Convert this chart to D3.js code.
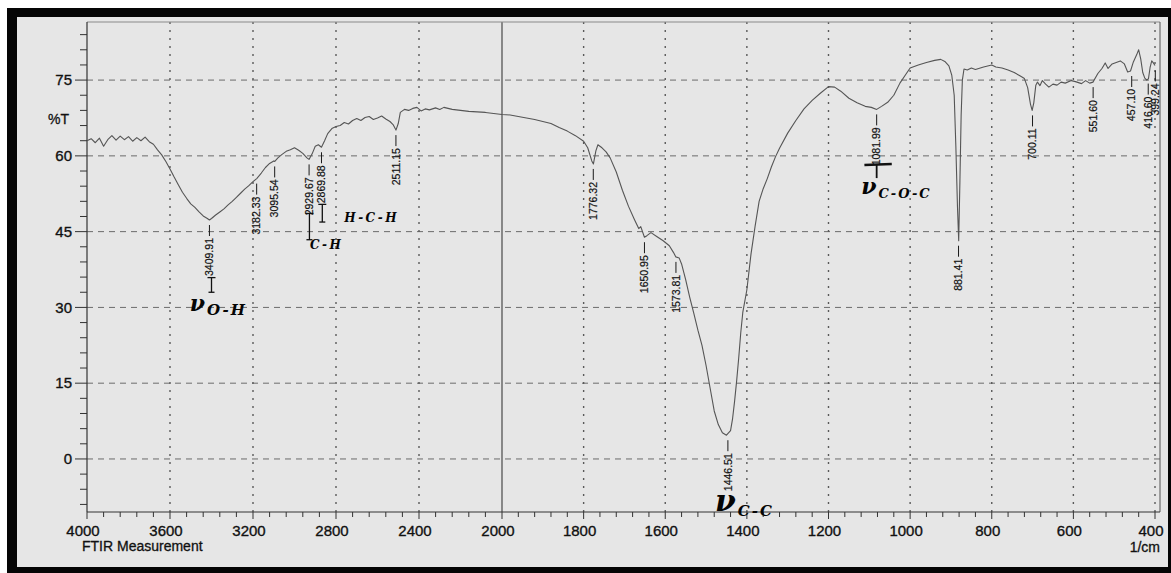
<!DOCTYPE html>
<html>
<head>
<meta charset="utf-8">
<script src="https://cdn.jsdelivr.net/npm/d3@7"></script>
<style>
  body { margin: 0; background: #fff; }
  svg { display: block; }
  .tick-label { font-family: "Liberation Sans", Arial, sans-serif; font-size: 15px; fill: #111; stroke: #111; stroke-width: 0.35px; }
  .axis-title { font-family: "Liberation Sans", Arial, sans-serif; font-size: 14px; fill: #111; stroke: #111; stroke-width: 0.3px; }
  .peak-label { font-family: "Liberation Sans", Arial, sans-serif; font-size: 10.5px; fill: #111; stroke: #111; stroke-width: 0.2px; }
  .hand { font-family: "DejaVu Serif", serif; font-style: italic; fill: #050505; }
</style>
</head>
<body>
<svg id="chart" width="1171" height="573"></svg>
<script>
// spectrum (wavenumber in 1/cm, transmittance in %T)
const wavenumber = [
  4000, 3980, 3960, 3940, 3920, 3900, 3880, 3860, 3840, 3820, 3800, 3780, 3760, 3740, 3720, 3700,
  3680, 3660, 3640, 3620, 3600, 3580, 3560, 3540, 3520, 3500, 3480, 3460, 3440, 3420, 3410, 3400,
  3380, 3360, 3340, 3320, 3300, 3280, 3260, 3240, 3220, 3200, 3182, 3160, 3140, 3120, 3100, 3095,
  3080, 3060, 3040, 3020, 3000, 2980, 2960, 2940, 2930, 2915, 2900, 2885, 2870, 2855, 2840, 2820,
  2800, 2780, 2760, 2740, 2720, 2700, 2680, 2660, 2640, 2620, 2600, 2580, 2560, 2540, 2525, 2511,
  2500, 2490, 2470, 2450, 2430, 2410, 2390, 2370, 2350, 2320, 2300, 2280, 2260, 2240, 2200, 2160,
  2120, 2080, 2040, 2000, 1980, 1960, 1940, 1920, 1900, 1880, 1860, 1840, 1820, 1800, 1790, 1780,
  1776, 1770, 1765, 1755, 1745, 1735, 1720, 1705, 1690, 1675, 1665, 1660, 1651, 1645, 1635, 1620,
  1605, 1590, 1580, 1574, 1566, 1560, 1550, 1540, 1530, 1520, 1510, 1500, 1490, 1480, 1470, 1460,
  1450, 1440, 1435, 1430, 1425, 1420, 1415, 1410, 1400, 1390, 1380, 1370, 1360, 1350, 1340, 1330,
  1320, 1300, 1280, 1260, 1240, 1220, 1200, 1185, 1170, 1150, 1130, 1110, 1095, 1082, 1070, 1055,
  1040, 1025, 1010, 1000, 980, 960, 940, 925, 915, 905, 898, 892, 888, 884, 881, 878,
  875, 872, 868, 860, 850, 840, 820, 800, 790, 775, 760, 745, 730, 720, 712, 705,
  701, 697, 692, 688, 682, 676, 668, 660, 650, 640, 630, 620, 605, 595, 580, 570,
  560, 552, 540, 530, 522, 515, 505, 495, 485, 475, 467, 460, 453, 445, 440, 435,
  430, 425, 420, 416, 412, 408, 404, 400
];
const transmittance = [
  63.0, 63.4, 62.6, 63.5, 61.9, 63.2, 64.0, 63.1, 63.9, 63.2, 63.8, 62.9, 63.6, 63.0, 63.7, 62.8,
  62.3, 61.2, 60.2, 58.9, 57.4, 55.8, 54.3, 52.8, 51.6, 50.5, 49.8, 48.9, 48.1, 47.6, 47.3, 47.6,
  48.3, 48.9, 49.5, 50.3, 51.0, 51.8, 52.6, 53.4, 54.1, 54.9, 55.5, 56.6, 57.7, 58.5, 59.0, 58.9,
  59.6, 60.3, 60.9, 61.2, 61.6, 61.1, 60.5, 59.6, 59.3, 60.4, 61.9, 62.2, 61.7, 63.0, 64.4, 65.4,
  65.8, 66.0, 66.6, 66.3, 67.0, 67.4, 67.0, 67.6, 67.8, 67.2, 67.5, 67.9, 67.3, 66.8, 66.2, 65.1,
  66.4, 68.6, 69.2, 69.0, 69.4, 69.6, 68.9, 69.3, 69.1, 69.5, 69.2, 69.6, 69.4, 69.2, 69.0, 68.8,
  68.7, 68.6, 68.4, 68.2, 68.1, 67.8, 67.5, 67.2, 66.8, 66.4, 65.6, 64.9, 64.0, 62.9, 61.6, 59.0,
  58.4, 61.0, 62.2, 61.6, 60.8, 59.6, 56.8, 53.2, 50.0, 47.3, 45.6, 46.0, 43.9, 44.2, 44.8, 44.0,
  43.2, 42.2, 40.9, 40.0, 39.8, 38.6, 35.5, 32.0, 28.8, 25.5, 22.5, 18.5, 14.0, 9.5, 6.8, 5.2,
  4.7, 5.6, 8.0, 11.5, 15.5, 20.0, 25.0, 29.0, 33.5, 40.5, 46.0, 51.0, 53.5, 55.5, 57.8, 59.8,
  61.5, 64.5, 67.0, 69.3, 71.0, 72.4, 73.7, 73.6, 72.8, 71.4, 70.5, 69.8, 69.6, 69.2, 69.8, 70.6,
  72.0, 74.4, 76.2, 77.4, 78.0, 78.5, 78.9, 79.1, 78.7, 77.8, 76.0, 72.0, 62.0, 50.0, 43.2, 55.0,
  68.0, 75.0, 77.2, 77.0, 77.4, 77.1, 77.6, 78.0, 77.6, 77.4, 77.0, 76.5, 75.8, 75.3, 73.5, 70.2,
  69.0, 70.5, 74.0, 74.6, 73.9, 74.9, 74.2, 73.6, 74.2, 74.0, 74.6, 74.4, 74.9, 74.7, 74.3, 74.9,
  74.4, 74.6, 76.3, 77.3, 78.4, 77.3, 78.2, 78.5, 78.8, 78.2, 76.6, 76.8, 78.6, 80.0, 81.0, 79.2,
  76.5, 75.4, 75.0, 75.3, 77.5, 78.8, 78.4, 77.9
];

const xTickValues = [4000, 3600, 3200, 2800, 2400, 2000, 1800, 1600, 1400, 1200, 1000, 800, 600, 400];
const yTickValues = [0, 15, 30, 45, 60, 75];

// peak picks printed by the instrument
const peakPositions = [3409.91, 3182.33, 3095.54, 2929.67, 2869.88, 2511.15, 1776.32, 1650.95,
  1573.81, 1446.51, 1081.99, 881.41, 700.11, 551.60, 457.10, 416.60, 399.24];
const peakLabels = ["3409.91", "3182.33", "3095.54", "2929.67", "2869.88", "2511.15", "1776.32", "1650.95",
  "1573.81", "1446.51", "1081.99", "881.41", "700.11", "551.60", "457.10", "416.60", "399.24"];

// handwritten notes on the print (wavenumber, %T)
const noteMain = ["\u03BD", "", "", "\u03BD", "\u03BD"];
const noteSub = ["O-H", "C-H", "H-C-H", "C-C", "C-O-C"];
const noteWn = [3505, 2925, 2760, 1478, 1120];
const noteT = [29.3, 41.6, 46.9, -10.3, 52.5];

const svg = d3.select("#chart");
const W = 1171, H = 573;

// paper photo with black frame
svg.append("rect").attr("width", W).attr("height", H).attr("fill", "#fff");
svg.append("rect").attr("x", 7).attr("y", 8).attr("width", W - 7).attr("height", H - 8).attr("fill", "#050505");
svg.append("rect").attr("x", 17).attr("y", 17).attr("width", 1151).attr("height", 550).attr("fill", "#e6e6e6");

// two-speed wavenumber axis, like the printer uses
const x = d3.scaleLinear().domain([4000, 2000, 400]).range([87, 502, 1155]);
const y = d3.scaleLinear().domain([-10.5, 86.5]).range([512, 22]);

const plotLeft = x(4000), plotRight = 1160, plotTop = y(86.5), plotBottom = y(-10.5);

// grid
svg.append("g").selectAll("line").data(yTickValues).join("line")
    .attr("x1", plotLeft).attr("x2", plotRight)
    .attr("y1", d => y(d)).attr("y2", d => y(d))
    .attr("stroke", "#6b6b6b").attr("stroke-width", 1)
    .attr("stroke-dasharray", "6,5");

svg.append("g").selectAll("line").data(xTickValues.filter(d => d !== 4000)).join("line")
    .attr("x1", d => x(d)).attr("x2", d => x(d))
    .attr("y1", plotTop).attr("y2", plotBottom)
    .attr("stroke", d => d === 2000 ? "#3a3a3a" : "#5a5a5a")
    .attr("stroke-width", d => d === 2000 ? 1.1 : 1.4)
    .attr("stroke-dasharray", d => d === 2000 ? null : "2,6");

// frame of the plot
svg.append("line").attr("x1", plotLeft).attr("x2", plotRight).attr("y1", plotTop).attr("y2", plotTop)
    .attr("stroke", "#8a8a8a").attr("stroke-width", 1);
svg.append("line").attr("x1", plotRight).attr("x2", plotRight).attr("y1", plotTop).attr("y2", plotBottom)
    .attr("stroke", "#555").attr("stroke-width", 1);
svg.append("line").attr("x1", plotLeft).attr("x2", plotLeft).attr("y1", plotTop).attr("y2", plotBottom)
    .attr("stroke", "#333").attr("stroke-width", 1.2);
svg.append("line").attr("x1", plotLeft).attr("x2", plotRight).attr("y1", plotBottom).attr("y2", plotBottom)
    .attr("stroke", "#333").attr("stroke-width", 1.2);

// y ticks: major every 15, minor every 3
const yMinor = d3.range(-9, 87, 3).filter(d => d % 15 !== 0);
svg.append("g").selectAll("line").data(yMinor).join("line")
    .attr("x1", plotLeft - 7).attr("x2", plotLeft)
    .attr("y1", d => y(d)).attr("y2", d => y(d))
    .attr("stroke", "#333");
svg.append("g").selectAll("line").data(yTickValues).join("line")
    .attr("x1", plotLeft - 12).attr("x2", plotLeft)
    .attr("y1", d => y(d)).attr("y2", d => y(d))
    .attr("stroke", "#333");
svg.append("g").selectAll("text").data(yTickValues).join("text")
    .attr("class", "tick-label")
    .attr("x", plotLeft - 15).attr("y", d => y(d)).attr("dy", "0.35em")
    .attr("text-anchor", "end")
    .text(d => d);

svg.append("text").attr("class", "axis-title")
    .attr("x", 48).attr("y", y(75) + 44).text("%T");

// x ticks: minor at one fifth of the major step
const xMinor = d3.range(4000, 2000, -80).concat(d3.range(2000, 399, -40))
    .filter(d => !xTickValues.includes(d));
svg.append("g").selectAll("line").data(xMinor).join("line")
    .attr("x1", d => x(d)).attr("x2", d => x(d))
    .attr("y1", plotBottom).attr("y2", plotBottom + 5)
    .attr("stroke", "#333");
svg.append("g").selectAll("line").data(xTickValues).join("line")
    .attr("x1", d => x(d)).attr("x2", d => x(d))
    .attr("y1", plotBottom).attr("y2", plotBottom + 7)
    .attr("stroke", "#333");
svg.append("g").selectAll("text").data(xTickValues).join("text")
    .attr("class", "tick-label")
    .attr("x", d => x(d) - 4).attr("y", plotBottom + 24)
    .attr("text-anchor", "middle")
    .text(d => d);

svg.append("text").attr("class", "axis-title")
    .attr("x", 82).attr("y", plotBottom + 39).text("FTIR Measurement");
svg.append("text").attr("class", "axis-title")
    .attr("x", x(400) + 5).attr("y", plotBottom + 40).attr("text-anchor", "end").text("1/cm");

// spectrum
const points = wavenumber.map((w, i) => [w, transmittance[i]]);
svg.append("path")
    .datum(points)
    .attr("fill", "none")
    .attr("stroke", "#555")
    .attr("stroke-width", 1.1)
    .attr("stroke-linejoin", "round")
    .attr("d", d3.line().x(d => x(d[0])).y(d => y(d[1])));

// peak picks: short tick below the curve, then the rotated number
function valueAt(w) {
    let best = 0;
    wavenumber.forEach((v, i) => { if (Math.abs(v - w) < Math.abs(wavenumber[best] - w)) best = i; });
    return transmittance[best];
}
const peaks = peakPositions.map((p, i) => ({ wn: p, label: peakLabels[i], t: valueAt(p) }));
const peakG = svg.append("g");
peakG.selectAll("line").data(peaks).join("line")
    .attr("x1", d => x(d.wn)).attr("x2", d => x(d.wn))
    .attr("y1", d => y(d.t) + 5).attr("y2", d => y(d.t) + 16)
    .attr("stroke", "#1a1a1a").attr("stroke-width", 1);
peakG.selectAll("text").data(peaks).join("text")
    .attr("class", "peak-label")
    .attr("transform", d => `translate(${x(d.wn)},${y(d.t) + 18}) rotate(-90)`)
    .attr("text-anchor", "end")
    .attr("dy", "0.36em")
    .text(d => d.label);

// pen marks under some of the picks
const markG = svg.append("g").attr("stroke", "#111").attr("stroke-width", 1.3).attr("fill", "none");
function bracket(wn, tTop, tBottom) {
    const cx = x(wn);
    markG.append("line").attr("x1", cx).attr("x2", cx).attr("y1", y(tTop)).attr("y2", y(tBottom));
    markG.append("line").attr("x1", cx - 4).attr("x2", cx + 4).attr("y1", y(tTop)).attr("y2", y(tTop));
    markG.append("line").attr("x1", cx - 3).attr("x2", cx + 3).attr("y1", y(tBottom)).attr("y2", y(tBottom));
}
bracket(3400, 35.9, 33.0);
bracket(2928, 48.6, 43.4);
bracket(2866, 50.4, 46.9);
markG.append("line").attr("x1", x(1112)).attr("x2", x(1045)).attr("y1", y(58.2)).attr("y2", y(58.4))
    .attr("stroke-width", 2.4);
markG.append("line").attr("x1", x(1082)).attr("x2", x(1082)).attr("y1", y(58.2)).attr("y2", y(55.6))
    .attr("stroke-width", 1.8);

// handwritten assignments
const notes = noteSub.map((s, i) => ({ main: noteMain[i], sub: s, wn: noteWn[i], t: noteT[i] }));
const mainSize = [22, 0, 0, 30, 22];
const subSize = [15, 12, 12, 15, 13];
notes.forEach((n, i) => {
    const t = svg.append("text").attr("class", "hand")
        .attr("x", x(n.wn)).attr("y", y(n.t));
    if (n.main) {
        t.append("tspan").attr("font-size", mainSize[i]).attr("font-weight", "bold").text(n.main);
        t.append("tspan").attr("font-size", subSize[i]).attr("dy", i === 3 ? 5 : 4)
            .attr("dx", 2).attr("letter-spacing", 2).attr("font-weight", "bold").text(n.sub);
    } else {
        t.attr("font-size", subSize[i]).attr("letter-spacing", 2.5).attr("font-weight", "bold").text(n.sub);
    }
});
</script>
</body>
</html>
